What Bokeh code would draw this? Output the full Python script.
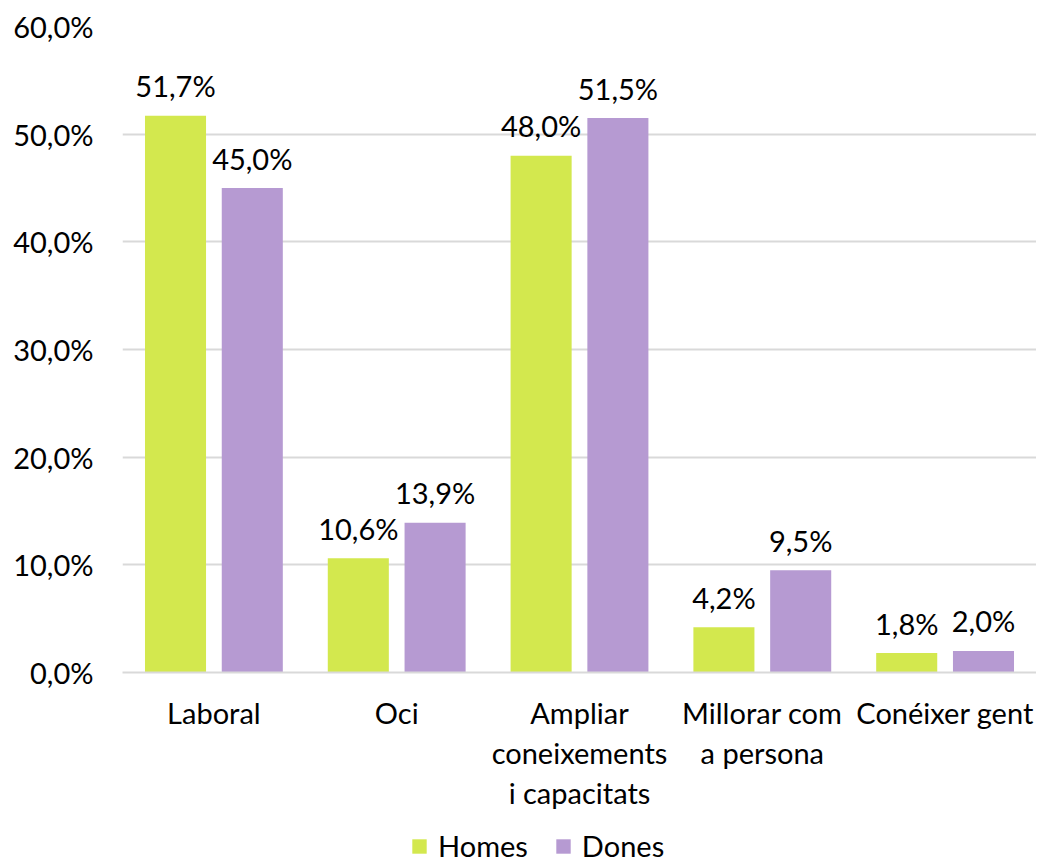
from bokeh.plotting import figure
from bokeh.layouts import column
from bokeh.models import ColumnDataSource, FactorRange, FixedTicker, Legend, LegendItem, Range1d
from bokeh.transform import dodge
from bokeh.core.properties import value
from bokeh.embed import file_html
from bokeh.resources import INLINE

categories = ["Laboral", "Oci", "Ampliar\nconeixements\ni capacitats", "Millorar com\na persona", "Conéixer gent"]
homes = [51.7, 10.6, 48.0, 4.2, 1.8]
dones = [45.0, 13.9, 51.5, 9.5, 2.0]
series_names = ["Homes", "Dones"]
y_ticks = [0, 10, 20, 30, 40, 50, 60]

GREEN = "#D3E84E"
PURPLE = "#B69AD2"
FONT = "Lato"
FS = "29px"

def fmt(v):
    return f"{v:.1f}%".replace(".", ",")

src = ColumnDataSource(dict(
    cat=categories,
    homes=homes,
    dones=dones,
    homes_lbl=[fmt(v) for v in homes],
    dones_lbl=[fmt(v) for v in dones],
))

p = figure(x_range=FactorRange(*categories, range_padding=0), y_range=(0, 60),
           width=1036, height=830, output_backend="svg", toolbar_location=None,
           min_border_left=122, min_border_right=0, min_border_top=26, min_border_bottom=158)

r1 = p.vbar(x=dodge("cat", -0.21, range=p.x_range), top="homes", width=0.334, source=src,
            fill_color=GREEN, line_color=None)
r2 = p.vbar(x=dodge("cat", 0.21, range=p.x_range), top="dones", width=0.334, source=src,
            fill_color=PURPLE, line_color=None)

p.text(x=dodge("cat", -0.21, range=p.x_range), y="homes", text="homes_lbl", source=src,
       text_align="center", text_baseline="middle", y_offset=-30,
       text_font=value(FONT), text_font_size=FS, text_color="black")
p.text(x=dodge("cat", 0.21, range=p.x_range), y="dones", text="dones_lbl", source=src,
       text_align="center", text_baseline="middle", y_offset=-30,
       text_font=value(FONT), text_font_size=FS, text_color="black")

p.yaxis.ticker = FixedTicker(ticks=y_ticks)
p.yaxis.major_label_overrides = {t: fmt(t) for t in y_ticks}
p.yaxis.axis_line_color = None
p.yaxis.major_tick_line_color = None
p.yaxis.minor_tick_line_color = None
p.yaxis.major_label_text_font = FONT
p.yaxis.major_label_text_font_size = FS
p.yaxis.major_label_text_color = "black"
p.yaxis.major_label_standoff = 23

p.xaxis.axis_label = None
p.xaxis.axis_line_color = "#D9D9D9"
p.xaxis.axis_line_width = 2
p.xaxis.major_tick_line_color = None
p.xaxis.minor_tick_line_color = None
p.xaxis.major_tick_out = 0
p.xaxis.major_tick_in = 0
p.xaxis.major_label_text_font = FONT
p.xaxis.major_label_text_font_size = FS
p.xaxis.major_label_text_line_height = 1.15
p.xaxis.major_label_text_color = "black"
p.xaxis.major_label_standoff = 22

p.xgrid.grid_line_color = None
p.ygrid.grid_line_color = "#D9D9D9"
p.ygrid.grid_line_width = 2
p.outline_line_color = None

# legend strip below the chart
lg = figure(width=1036, height=37, x_range=Range1d(0, 1), y_range=Range1d(0, 1),
            output_backend="svg", toolbar_location=None,
            x_axis_location=None, y_axis_location=None,
            min_border_left=0, min_border_right=0, min_border_top=0, min_border_bottom=0)
lg.xgrid.grid_line_color = None
lg.ygrid.grid_line_color = None
lg.outline_line_color = None
d1 = lg.vbar(x=[-10], top=[-10], width=0.1, fill_color=GREEN, line_color=None)
d2 = lg.vbar(x=[-10], top=[-10], width=0.1, fill_color=PURPLE, line_color=None)

legend = Legend(items=[LegendItem(label=series_names[0], renderers=[d1]),
                       LegendItem(label=series_names[1], renderers=[d2])],
                orientation="horizontal", location=(288, 4),
                label_text_font=FONT, label_text_font_size=FS, label_text_color="black",
                glyph_width=18, glyph_height=18, spacing=26, label_standoff=10,
                label_height=29,
                border_line_color=None, background_fill_alpha=0, margin=0, padding=0)
lg.add_layout(legend, "center")

layout = column(p, lg, spacing=0)
open("out.html", "w").write(file_html(layout, INLINE))
